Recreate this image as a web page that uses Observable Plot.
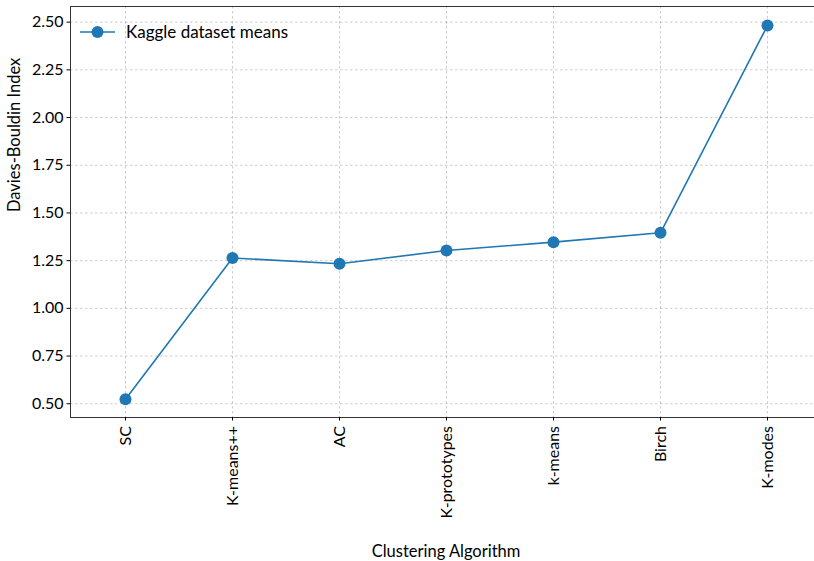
<!DOCTYPE html>
<html>
<head>
<meta charset="utf-8">
<script src="https://cdn.jsdelivr.net/npm/d3@7"></script>
<script src="https://cdn.jsdelivr.net/npm/@observablehq/plot@0.6"></script>
<style>
  html, body { margin: 0; padding: 0; background: white; overflow: hidden; }
  #wrap { position: relative; width: 814px; height: 561px; font-family: Lato, sans-serif; }
  #wrap svg { overflow: hidden; }
  #legend { position: absolute; left: 78px; top: 21px; display: flex; align-items: center; font-size: 17px; color: #000; }
</style>
</head>
<body>
<div id="wrap"></div>
<script>
const algorithms = ["SC", "K-means++", "AC", "K-prototypes", "k-means", "Birch", "K-modes"];
const dbIndex = [0.524, 1.264, 1.234, 1.303, 1.347, 1.396, 2.482];
const yTicks = [0.50, 0.75, 1.00, 1.25, 1.50, 1.75, 2.00, 2.25, 2.50];
const seriesName = "Kaggle dataset means";
const xLabel = "Clustering Algorithm";
const yLabel = "Davies-Bouldin Index";

const data = algorithms.map((a, i) => ({algorithm: a, value: dbIndex[i]}));
const blue = "#1f77b4";

const chart = Plot.plot({
  width: 814,
  height: 561,
  marginLeft: 70,
  marginRight: -7,
  marginTop: 6,
  marginBottom: 144,
  style: {fontFamily: "Lato, sans-serif", fontSize: "16px", color: "#000", background: "white"},
  x: {type: "point", domain: algorithms, padding: 0.5},
  y: {domain: [0.428, 2.582]},
  marks: [
    Plot.gridX({stroke: "#000", strokeOpacity: 0.2, strokeDasharray: "2.5,2.5"}),
    Plot.gridY(yTicks, {stroke: "#000", strokeOpacity: 0.2, strokeDasharray: "2.5,2.5"}),
    Plot.frame({stroke: "#333", strokeWidth: 1}),
    Plot.axisY(yTicks, {tickFormat: d3.format(".2f"), tickSize: 3.5, tickPadding: 3.5, fontSize: 16, label: null}),
    Plot.axisX({tickRotate: -90, tickSize: 3.5, tickPadding: 5, fontSize: 16, label: null}),
    Plot.text([xLabel], {frameAnchor: "bottom", dy: 139, fontSize: 16.5, fill: "#000"}),
    Plot.text([yLabel], {frameAnchor: "left", dx: -56, rotate: -90, fontSize: 16.5, fill: "#000"}),
    Plot.line(data, {x: "algorithm", y: "value", stroke: blue, strokeWidth: 1.6}),
    Plot.dot(data, {x: "algorithm", y: "value", r: 6, fill: blue, stroke: "none"})
  ]
});
const wrap = document.getElementById("wrap");
wrap.appendChild(chart);

const legend = document.createElement("div");
legend.id = "legend";
legend.innerHTML = `<svg width="40" height="20" style="overflow:visible"><line x1="2" x2="37" y1="10" y2="10" stroke="${blue}" stroke-width="1.6"></line><circle cx="19.5" cy="10" r="6" fill="${blue}"></circle></svg><span style="margin-left:8px">${seriesName}</span>`;
wrap.appendChild(legend);
</script>
</body>
</html>
